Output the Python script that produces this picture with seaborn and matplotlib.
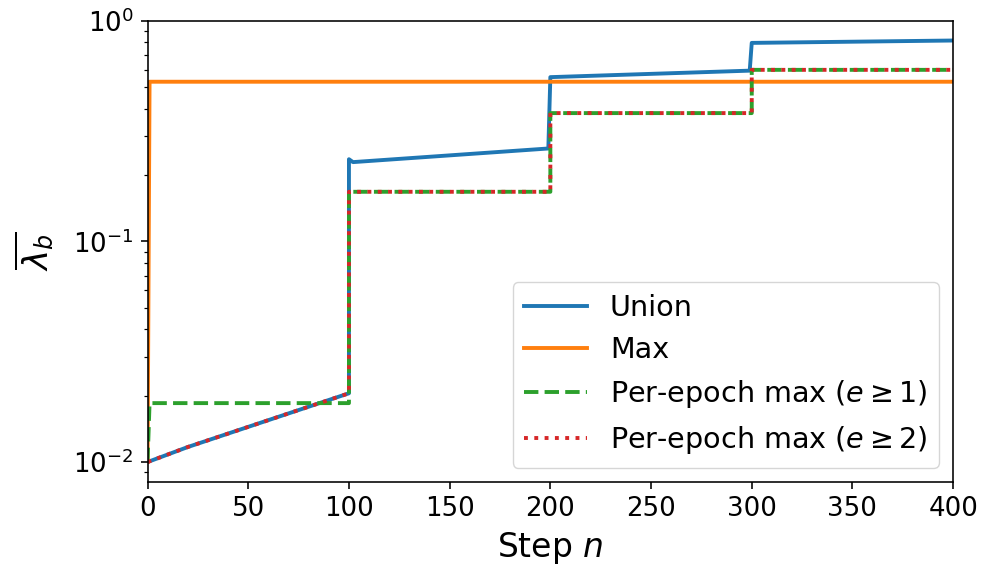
import seaborn as sns
import matplotlib.pyplot as plt

# values (step n, mean lambda_b)
union_n = [0, 20, 100, 100, 102, 199, 200, 299, 300, 400]
union_v = [0.0100, 0.0117, 0.0205, 0.236, 0.229, 0.264, 0.556, 0.595, 0.795, 0.815]
max_n = [0, 1, 400]
max_v = [0.0100, 0.530, 0.530]
e1_n = [0, 1, 100, 100, 200, 200, 300, 300, 400]
e1_v = [0.0100, 0.0185, 0.0185, 0.168, 0.168, 0.382, 0.382, 0.600, 0.600]
e2_n = [0, 20, 100, 100, 200, 200, 300, 300, 400]
e2_v = [0.0100, 0.0117, 0.0205, 0.168, 0.168, 0.382, 0.382, 0.600, 0.600]

series = [
    ("Union", union_n, union_v, "-"),
    ("Max", max_n, max_v, "-"),
    (r"Per-epoch max ($e \geq 1$)", e1_n, e1_v, "--"),
    (r"Per-epoch max ($e \geq 2$)", e2_n, e2_v, ":"),
]
colors = ["#1f77b4", "#ff7f0e", "#2ca02c", "#d62728"]

# reference looks like a default matplotlib figure rendered ~1.44x larger
s = 1.44
plt.rcParams.update({
    "axes.linewidth": 0.8 * s,
    "xtick.major.size": 3.5 * s, "ytick.major.size": 3.5 * s,
    "xtick.major.width": 0.8 * s, "ytick.major.width": 0.8 * s,
    "xtick.minor.size": 2 * s, "ytick.minor.size": 2 * s,
    "xtick.minor.width": 0.6 * s, "ytick.minor.width": 0.6 * s,
    "xtick.major.pad": 3.5 * s, "ytick.major.pad": 3.5 * s,
    "axes.labelpad": 4 * s,
})

fig, ax = plt.subplots(figsize=(9.97, 5.81), dpi=100)
fig.subplots_adjust(left=0.148, right=0.956, top=0.964, bottom=0.170)

for (label, xs, ys, ls), c in zip(series, colors):
    sns.lineplot(x=xs, y=ys, sort=False, estimator=None, color=c,
                 linestyle=ls, linewidth=2.8, label=label, ax=ax)

ax.set_yscale("log")
ax.set_xlim(0, 400)
ax.set_ylim(0.0081, 1.0)
ax.set_xticks(range(0, 401, 50))
ax.tick_params(labelsize=18.7)
ax.set_xlabel("Step $n$", fontsize=23.8)
ax.set_ylabel(r"$\overline{\lambda_b}$", fontsize=24.5, labelpad=12)
ax.legend(loc="lower right", fontsize=20.6, handlelength=2.2)

fig.savefig("out.png", dpi=100)
